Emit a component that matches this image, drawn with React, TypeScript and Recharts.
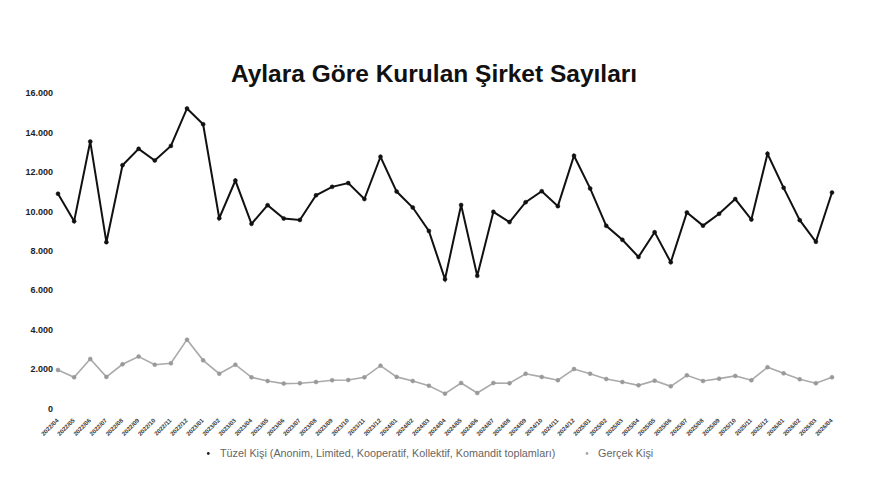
import React from 'react';
import { LineChart, Line, XAxis, YAxis } from 'recharts';

const months = [
  '2022/04', '2022/05', '2022/06', '2022/07', '2022/08', '2022/09', '2022/10', '2022/11', '2022/12',
  '2023/01', '2023/02', '2023/03', '2023/04', '2023/05', '2023/06', '2023/07', '2023/08', '2023/09', '2023/10', '2023/11', '2023/12',
  '2024/01', '2024/02', '2024/03', '2024/04', '2024/05', '2024/06', '2024/07', '2024/08', '2024/09', '2024/10', '2024/11', '2024/12',
  '2025/01', '2025/02', '2025/03', '2025/04', '2025/05', '2025/06', '2025/07', '2025/08', '2025/09', '2025/10', '2025/11', '2025/12',
  '2026/01', '2026/02', '2026/03', '2026/04',
];

const tuzelKisi = [
  10900, 9500, 13550, 8440, 12350, 13180, 12590, 13330, 15230,
  14430, 9660, 11570, 9370, 10320, 9640, 9570, 10820, 11250, 11440, 10630, 12780,
  11010, 10200, 9010, 6560, 10330, 6730, 9980, 9460, 10470, 11030, 10270, 12830,
  11170, 9270, 8560, 7690, 8950, 7420, 9950, 9280, 9880, 10630, 9590, 12930,
  11200, 9560, 8460, 10960,
];

const gercekKisi = [
  1950, 1580, 2510, 1600, 2240, 2630, 2220, 2290, 3490,
  2440, 1760, 2220, 1580, 1390, 1260, 1280, 1340, 1430, 1440, 1580, 2170,
  1600, 1390, 1150, 750, 1290, 780, 1290, 1280, 1760, 1600, 1430, 2000,
  1760, 1490, 1340, 1170, 1410, 1120, 1680, 1390, 1510, 1650, 1430, 2090,
  1780, 1480, 1280, 1580,
];

const yTicks = [0, 2000, 4000, 6000, 8000, 10000, 12000, 14000, 16000];

const titleText = 'Aylara Göre Kurulan Şirket Sayıları';
const legendTuzel = 'Tüzel Kişi (Anonim, Limited, Kooperatif, Kollektif, Komandit toplamları)';
const legendGercek = 'Gerçek Kişi';

const data = months.map((m, i) => ({ month: m, tuzel: tuzelKisi[i], gercek: gercekKisi[i] }));

const FONT = '"Liberation Sans", Arial, Helvetica, sans-serif';
const W = 859;
const H = 476;

const fmt = (v: number) => String(v).replace(/\B(?=(\d{3})+(?!\d))/g, '.');

const XTick = (props: any) => {
  const { x, y, payload } = props;
  return (
    <g transform={`translate(${x + 1},${y + 12.5})`}>
      <text
        x={0}
        y={0}
        textAnchor="end"
        transform="rotate(-45)"
        fontSize={6}
        fontWeight="bold"
        fill="#333"
        fontFamily={FONT}
      >
        {payload.value}
      </text>
    </g>
  );
};

export default function App() {
  return (
    <div style={{ position: 'relative', width: W, height: H, fontFamily: FONT }}>
      <LineChart
        width={W}
        height={H}
        data={data}
        margin={{ top: 85.3, right: 35, bottom: 35.6, left: 0 }}
      >
        <XAxis
          dataKey="month"
          scale="point"
          padding={{ left: 0, right: 0 }}
          axisLine={false}
          tickLine={false}
          tickSize={0}
          tickMargin={0}
          interval={0}
          height={40}
          tick={<XTick />}
        />
        <YAxis
          domain={[0, 16000]}
          ticks={yTicks}
          width={50}
          axisLine={false}
          tickLine={false}
          tickSize={0}
          tickMargin={5}
          tickFormatter={fmt}
          tick={{ fontSize: 9, fontWeight: 'bold', fill: '#222', fontFamily: FONT }}
        />
        <Line
          dataKey="tuzel"
          stroke="#111"
          strokeWidth={2}
          dot={{ r: 2, fill: '#111', stroke: '#111', strokeWidth: 0.5 }}
          isAnimationActive={false}
        />
        <Line
          dataKey="gercek"
          stroke="#aaa"
          strokeWidth={1.6}
          dot={{ r: 2, fill: '#999', stroke: '#999', strokeWidth: 0.5 }}
          isAnimationActive={false}
        />
      </LineChart>
      <svg
        width={W}
        height={H}
        style={{ position: 'absolute', left: 0, top: 0, pointerEvents: 'none' }}
      >
        <text
          x={426}
          y={73.7}
          textAnchor="middle"
          fontSize={24.5}
          fontWeight="bold"
          fill="#111"
          fontFamily={FONT}
        >
          {titleText}
        </text>
        <circle cx={200.3} cy={445.5} r={1.4} fill="#222" />
        <text x={212} y={449} fontSize={10.8} fill="#666" fontFamily={FONT}>
          {legendTuzel}
        </text>
        <circle cx={579} cy={445.5} r={1.4} fill="#aaa" />
        <text x={590} y={449} fontSize={10.8} fill="#666" fontFamily={FONT}>
          {legendGercek}
        </text>
      </svg>
    </div>
  );
}
